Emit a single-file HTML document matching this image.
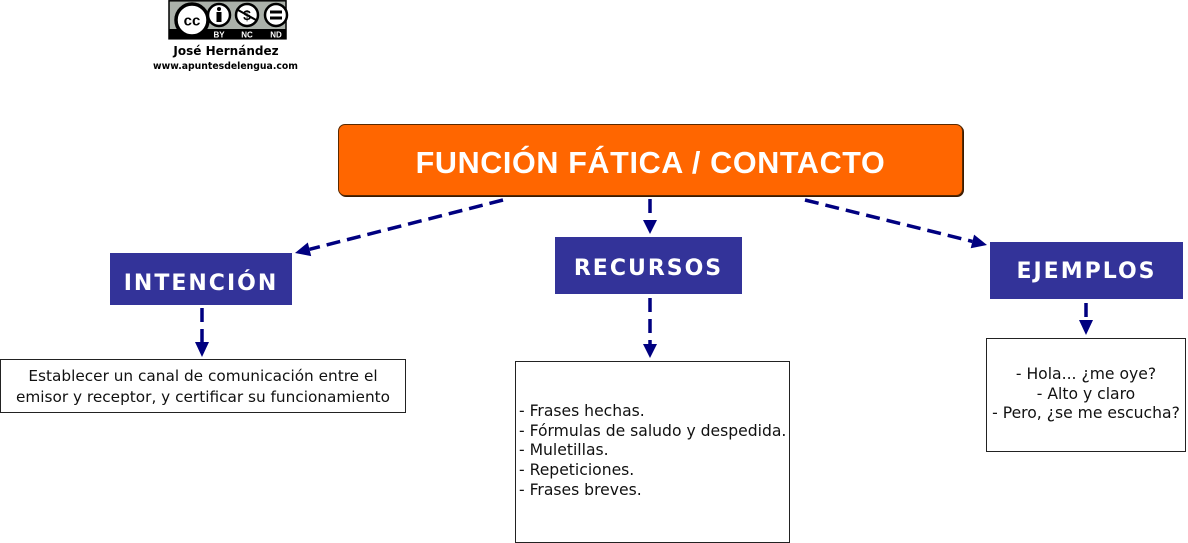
<!DOCTYPE html>
<html>
<head>
<meta charset="utf-8">
<style>
  html, body { margin:0; padding:0; background:#fff; }
  body { width:1188px; height:543px; position:relative; overflow:hidden; font-family:"DejaVu Sans","Liberation Sans",sans-serif; }
  .abs { position:absolute; }
  .title {
    left:338px; top:124px; width:623px; height:70px;
    background:#ff6600; border:1px solid #5a2a00; border-radius:7px;
    box-shadow: 1px 1px 0 #3a1a00;
  }
  .title span {
    position:absolute; left:0; right:0; top:20px; text-align:center;
    font-family:"Liberation Sans",sans-serif; font-weight:bold; font-size:30.5px;
    letter-spacing:0.65px; color:#fff; line-height:36px;
  }
  .hdr {
    background:#333399; color:#fff; font-family:"DejaVu Sans",sans-serif; font-weight:bold;
    font-size:22px; letter-spacing:2px; text-align:center;
  }
  .box { border:1px solid #222; background:#fff; box-sizing:border-box; font-size:15.6px; color:#111; line-height:20px; }
</style>
</head>
<body>

<!-- logo -->
<svg class="abs" style="left:0;top:0" width="320" height="80">
  <rect x="169" y="0.8" width="117" height="38" fill="#abb1aa" stroke="#000" stroke-width="1.5"/>
  <rect x="169" y="29" width="117" height="10" fill="#000"/>
  <circle cx="192" cy="20" r="16" fill="#fff" stroke="#000" stroke-width="3.5"/>
  <text x="192" y="25.5" text-anchor="middle" font-family="Liberation Sans, sans-serif" font-weight="bold" font-size="15" fill="#000">cc</text>
  <circle cx="219" cy="15" r="11" fill="#fff" stroke="#000" stroke-width="2.5"/>
  <circle cx="219" cy="9" r="2" fill="#000"/>
  <rect x="216.5" y="12" width="5" height="10" fill="#000"/>
  <circle cx="247" cy="15" r="11" fill="#fff" stroke="#000" stroke-width="2.5"/>
  <text x="247" y="20" text-anchor="middle" font-family="Liberation Sans, sans-serif" font-weight="bold" font-size="14" fill="#000">$</text>
  <line x1="238" y1="10" x2="256" y2="20" stroke="#000" stroke-width="2"/>
  <circle cx="276" cy="15" r="11" fill="#fff" stroke="#000" stroke-width="2.5"/>
  <rect x="270" y="10.5" width="12" height="3" fill="#000"/>
  <rect x="270" y="16.5" width="12" height="3" fill="#000"/>
  <text x="219" y="37.5" text-anchor="middle" font-family="Liberation Sans, sans-serif" font-weight="bold" font-size="8" fill="#fff">BY</text>
  <text x="247" y="37.5" text-anchor="middle" font-family="Liberation Sans, sans-serif" font-weight="bold" font-size="8" fill="#fff">NC</text>
  <text x="276" y="37.5" text-anchor="middle" font-family="Liberation Sans, sans-serif" font-weight="bold" font-size="8" fill="#fff">ND</text>
  <text x="226" y="55" text-anchor="middle" font-family="DejaVu Sans, sans-serif" font-weight="bold" font-size="12" fill="#000">José Hernández</text>
  <text x="225.5" y="69" text-anchor="middle" font-family="DejaVu Sans, sans-serif" font-weight="bold" font-size="9.3" fill="#000">www.apuntesdelengua.com</text>
</svg>

<div class="abs title"><span>FUNCIÓN FÁTICA / CONTACTO</span></div>

<div class="abs hdr" style="left:110px;top:253px;width:182px;height:52px;line-height:62px;">INTENCIÓN</div>
<div class="abs hdr" style="left:555px;top:237px;width:187px;height:57px;line-height:63px;">RECURSOS</div>
<div class="abs hdr" style="left:990px;top:242px;width:193px;height:57px;line-height:60px;">EJEMPLOS</div>

<div class="abs box" style="left:0;top:359px;width:406px;height:54px;text-align:center;padding-top:6px;line-height:21px;font-size:15.3px;">
Establecer un canal de comunicación entre el<br>emisor y receptor, y certificar su funcionamiento
</div>

<div class="abs box" style="left:515px;top:361px;width:275px;height:182px;padding-top:40px;padding-left:3px;line-height:19.7px;">
- Frases hechas.<br>- Fórmulas de saludo y despedida.<br>- Muletillas.<br>- Repeticiones.<br>- Frases breves.
</div>

<div class="abs box" style="left:986px;top:338px;width:200px;height:114px;text-align:center;padding-top:26px;line-height:19.5px;">
- Hola... ¿me oye?<br>- Alto y claro<br>- Pero, ¿se me escucha?
</div>

<!-- connectors -->
<svg class="abs" style="left:0;top:0" width="1188" height="543">
  <g stroke="#000080" stroke-width="3.5" stroke-dasharray="14 7" fill="none">
    <line x1="503" y1="200" x2="309.5" y2="249.3"/>
    <line x1="805" y1="200" x2="972.4" y2="241.4"/>
    <line x1="650" y1="199" x2="650" y2="219"/>
    <line x1="202" y1="308" x2="202" y2="342"/>
    <line x1="650" y1="298" x2="650" y2="344"/>
    <line x1="1086" y1="303" x2="1086" y2="320"/>
  </g>
  <g fill="#000080">
    <polygon points="295,253 311.2,256.1 307.8,242.5"/>
    <polygon points="987,245 970.7,248.2 974.1,234.6"/>
    <polygon points="650,234 643,220 657,220"/>
    <polygon points="202,357 195,342 209,342"/>
    <polygon points="650,358 643,344 657,344"/>
    <polygon points="1086,335 1079,320 1093,320"/>
  </g>
</svg>

</body>
</html>
